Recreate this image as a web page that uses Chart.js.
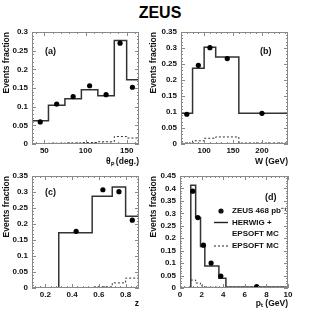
<!DOCTYPE html>
<html>
<head>
<meta charset="utf-8">
<script src="https://cdn.jsdelivr.net/npm/chart.js@4.4.1/dist/chart.umd.min.js"></script>
<style>
body { margin: 0; background: #fff; width: 320px; height: 320px; position: relative; overflow: hidden; }
#title { position: absolute; left: 0; top: 4px; width: 320px; text-align: center; font: bold 16px 'Liberation Sans', Arial, sans-serif; color: #000; }
canvas { position: absolute; }
</style>
</head>
<body>
<div id="title">ZEUS</div>
<canvas id="ca" width="160" height="155" style="left:0;top:15px"></canvas>
<canvas id="cb" width="173" height="155" style="left:147px;top:15px"></canvas>
<canvas id="cc" width="160" height="152" style="left:0;top:160px"></canvas>
<canvas id="cd" width="173" height="152" style="left:147px;top:160px"></canvas>
<script>
// (a) theta_p
var aEdges = [35, 55, 75, 95, 115, 135, 150, 165];
var aMC = [0.062, 0.104, 0.121, 0.145, 0.129, 0.277, 0.172];
var aSoft = [0.001, 0.002, 0.003, 0.004, 0.006, 0.020, 0.016];
var aPtX = [45, 65, 85, 105, 125, 142, 157];
var aPtY = [0.059, 0.107, 0.127, 0.156, 0.132, 0.270, 0.152];
var aXTicks = [50, 100, 150];
var aYTicks = [0, 0.05, 0.1, 0.15, 0.2, 0.25, 0.3];

// (b) W
var bEdges = [60, 80, 100, 120, 160, 245];
var bMC = [0.096, 0.237, 0.302, 0.272, 0.096];
var bSoft = [0.003, 0.010, 0.018, 0.022, 0.003];
var bPtX = [70, 90, 110, 140, 200];
var bPtY = [0.093, 0.246, 0.301, 0.267, 0.096];
var bXTicks = [100, 150, 200];
var bYTicks = [0, 0.05, 0.1, 0.15, 0.2, 0.25, 0.3, 0.35];

// (c) z
var cEdges = [0.3, 0.55, 0.7, 0.8, 0.9];
var cMC = [0.173, 0.287, 0.316, 0.224];
var cSoft = [0.001, 0.004, 0.016, 0.031];
var cPtX = [0.43, 0.63, 0.75, 0.85];
var cPtY = [0.177, 0.307, 0.301, 0.212];
var cXTicks = [0.2, 0.4, 0.6, 0.8];
var cYTicks = [0, 0.05, 0.1, 0.15, 0.2, 0.25, 0.3, 0.35];

// (d) pT
var dEdges = [1, 1.45, 1.9, 2.3, 3.6, 4.25, 10];
var dMC = [0.413, 0.283, 0.167, 0.088, 0.039, 0.004];
var dSoft = [0.032, 0.020, 0.009, 0.003, 0.001, 0.0];
var dPtX = [1.18, 1.65, 2.17, 2.88, 3.78, 7.1];
var dPtY = [0.389, 0.283, 0.172, 0.100, 0.048, 0.006];
var dXTicks = [0, 2, 4, 6, 8, 10];
var dYTicks = [0, 0.05, 0.1, 0.15, 0.2, 0.25, 0.3, 0.35, 0.4, 0.45];

Chart.defaults.font.family = "'Liberation Sans', Arial, sans-serif";
Chart.defaults.font.size = 8;
Chart.defaults.font.weight = 'bold';
Chart.defaults.color = '#111';

function stepPoints(edges, vals, fromZero) {
    var pts = [];
    if (fromZero) pts.push({x: edges[0], y: 0});
    for (var i = 0; i < vals.length; i++) pts.push({x: edges[i], y: vals[i]});
    pts.push({x: edges[edges.length - 1], y: vals[vals.length - 1]});
    return pts;
}

function zip(xs, ys) {
    return xs.map(function(x, i) { return {x: x, y: ys[i]}; });
}

// minor tick values: 5 per major interval, across the full axis range
function minorValues(scale) {
    var t = scale.ticks;
    if (t.length < 2) return [];
    var step = (t[1].value - t[0].value) / 5, out = [];
    var v = t[0].value;
    while (v - step >= scale.min - 1e-9) v -= step;
    for (; v <= scale.max + 1e-9; v += step) out.push(v);
    return out;
}

// frame with inward tick marks on all four sides
var framePlugin = {
    id: 'frame',
    afterDatasetsDraw: function(chart) {
        var ctx = chart.ctx, a = chart.chartArea, sx = chart.scales.x, sy = chart.scales.y;
        ctx.save();
        ctx.strokeStyle = '#888';
        ctx.lineWidth = 1;
        ctx.strokeRect(a.left + 0.5, a.top + 0.5, a.right - a.left - 1, a.bottom - a.top - 1);
        function xTick(v, len) {
            var px = Math.round(sx.getPixelForValue(v)) + 0.5;
            ctx.moveTo(px, a.bottom); ctx.lineTo(px, a.bottom - len);
            ctx.moveTo(px, a.top); ctx.lineTo(px, a.top + len);
        }
        function yTick(v, len) {
            var py = Math.round(sy.getPixelForValue(v)) + 0.5;
            ctx.moveTo(a.left, py); ctx.lineTo(a.left + len, py);
            ctx.moveTo(a.right, py); ctx.lineTo(a.right - len, py);
        }
        ctx.beginPath();
        sx.ticks.forEach(function(t) { xTick(t.value, 4); });
        sy.ticks.forEach(function(t) { yTick(t.value, 4); });
        minorValues(sx).forEach(function(v) { xTick(v, 2); });
        minorValues(sy).forEach(function(v) { yTick(v, 2); });
        ctx.stroke();
        ctx.restore();
    }
};

var notePlugin = {
    id: 'notes',
    afterDraw: function(chart) {
        var o = chart.options.plugins.notes;
        if (!o) return;
        var ctx = chart.ctx;
        ctx.save();
        ctx.fillStyle = '#111';
        ctx.textBaseline = 'middle';
        ctx.font = "bold 9px 'Liberation Sans', Arial, sans-serif";
        ctx.fillText(o.label, o.lx, o.ly);
        if (o.legend) {
            var L = o.legend;
            ctx.font = "bold 8px 'Liberation Sans', Arial, sans-serif";
            ctx.beginPath();
            ctx.arc(L.sx + 7, L.rows[0], 2.6, 0, Math.PI * 2);
            ctx.fill();
            ctx.strokeStyle = '#222';
            ctx.lineWidth = 1.4;
            ctx.beginPath();
            ctx.moveTo(L.sx, L.rows[1]); ctx.lineTo(L.sx + 14, L.rows[1]);
            ctx.stroke();
            ctx.lineWidth = 1;
            ctx.setLineDash([2, 2]);
            ctx.beginPath();
            ctx.moveTo(L.sx, L.rows[3]); ctx.lineTo(L.sx + 14, L.rows[3]);
            ctx.stroke();
            ctx.setLineDash([]);
            ctx.fillText('ZEUS 468 pb\u207B\u00B9', L.tx, L.rows[0]);
            ctx.fillText('HERWIG +', L.tx, L.rows[1]);
            ctx.fillText('EPSOFT MC', L.tx, L.rows[2]);
            ctx.fillText('EPSOFT MC', L.tx, L.rows[3]);
        }
        ctx.restore();
    }
};

function makePanel(id, p) {
    new Chart(document.getElementById(id), {
        type: 'line',
        data: {
            datasets: [
                {
                    data: zip(p.ptX, p.ptY),
                    showLine: false,
                    pointRadius: 2.6,
                    pointBackgroundColor: '#000',
                    pointBorderWidth: 0
                },
                {
                    data: stepPoints(p.edges, p.mc, p.fromZero),
                    stepped: 'before',
                    borderColor: '#333',
                    borderWidth: 1.5,
                    pointRadius: 0,
                    fill: false
                },
                {
                    data: stepPoints(p.edges, p.soft, false),
                    stepped: 'before',
                    borderColor: '#333',
                    borderWidth: 1,
                    borderDash: [2, 2],
                    pointRadius: 0,
                    fill: false
                }
            ]
        },
        options: {
            responsive: false,
            animation: false,
            events: [],
            layout: { autoPadding: false, padding: { top: p.padTop, right: p.padRight, left: 0, bottom: 0 } },
            plugins: { legend: { display: false }, tooltip: { enabled: false }, notes: p.notes },
            scales: {
                x: {
                    type: 'linear',
                    min: p.xmin, max: p.xmax,
                    grid: { display: false, drawTicks: false },
                    border: { display: false },
                    afterBuildTicks: function(s) { s.ticks = p.xTicks.map(function(v) { return {value: v}; }); },
                    afterFit: function(s) { s.height = p.bottomH; },
                    ticks: { padding: 2, maxRotation: 0, autoSkip: false },
                    title: { display: true, text: p.xTitle, align: 'end', padding: { top: 0, bottom: 3 }, font: { size: 8.5 } }
                },
                y: {
                    type: 'linear',
                    min: 0, max: p.ymax,
                    grid: { display: false, drawTicks: false },
                    border: { display: false },
                    afterBuildTicks: function(s) { s.ticks = p.yTicks.map(function(v) { return {value: v}; }); },
                    afterFit: function(s) { s.width = p.leftW; },
                    ticks: { padding: 4, autoSkip: false, callback: function(v) { return String(v); } },
                    title: { display: true, text: 'Events fraction', align: 'end', padding: { top: 2, bottom: 0 }, font: { size: 8.5 } }
                }
            }
        },
        plugins: [framePlugin, notePlugin]
    });
}

makePanel('ca', {
    edges: aEdges, mc: aMC, soft: aSoft, ptX: aPtX, ptY: aPtY, fromZero: false,
    xmin: 35, xmax: 165, xTicks: aXTicks, ymax: 0.3, yTicks: aYTicks,
    xTitle: '\u03B8\u209A (deg.)', leftW: 32, padRight: 21, padTop: 17, bottomH: 26,
    notes: { label: '(a)', lx: 45, ly: 37 }
});
makePanel('cb', {
    edges: bEdges, mc: bMC, soft: bSoft, ptX: bPtX, ptY: bPtY, fromZero: false,
    xmin: 60, xmax: 245, xTicks: bXTicks, ymax: 0.35, yTicks: bYTicks,
    xTitle: 'W (GeV)', leftW: 34, padRight: 32, padTop: 17, bottomH: 26,
    notes: { label: '(b)', lx: 113, ly: 37 }
});
makePanel('cc', {
    edges: cEdges, mc: cMC, soft: cSoft, ptX: cPtX, ptY: cPtY, fromZero: true,
    xmin: 0.1, xmax: 0.9, xTicks: cXTicks, ymax: 0.35, yTicks: cYTicks,
    xTitle: 'z', leftW: 32, padRight: 21, padTop: 16, bottomH: 24,
    notes: { label: '(c)', lx: 45, ly: 33 }
});
makePanel('cd', {
    edges: dEdges, mc: dMC, soft: dSoft, ptX: dPtX, ptY: dPtY, fromZero: true,
    xmin: 0, xmax: 10, xTicks: dXTicks, ymax: 0.45, yTicks: dYTicks,
    xTitle: 'p\u209C (GeV)', leftW: 33, padRight: 32, padTop: 16, bottomH: 24,
    notes: { label: '(d)', lx: 118, ly: 38, legend: { sx: 67, tx: 85, rows: [51, 62.5, 73.5, 86] } }
});
</script>
</body>
</html>
